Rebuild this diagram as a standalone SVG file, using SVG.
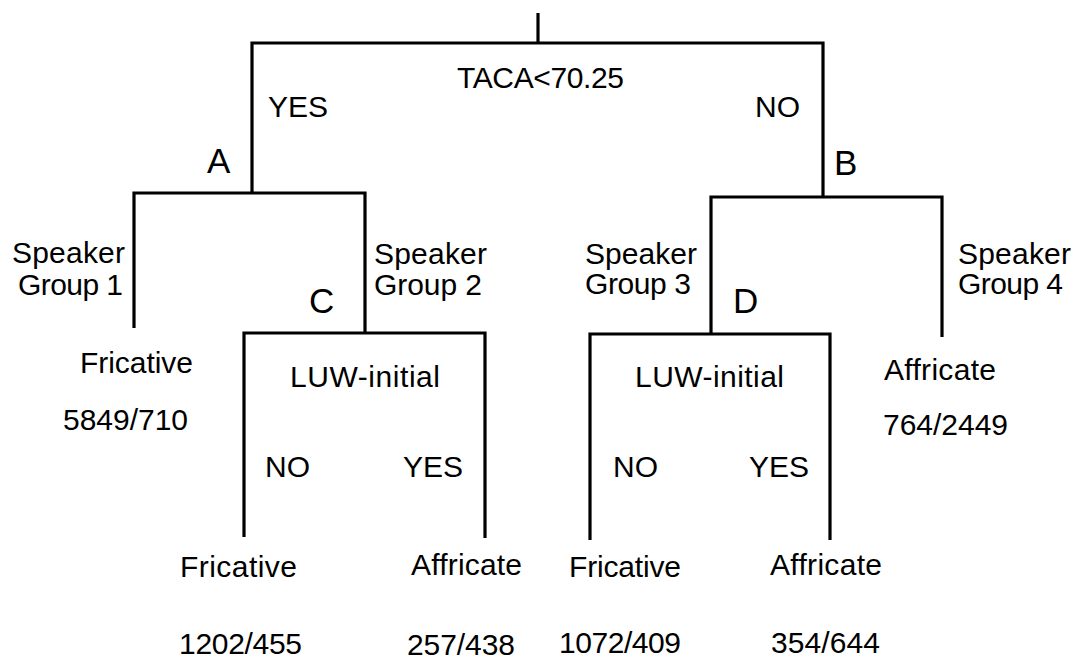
<svg xmlns="http://www.w3.org/2000/svg" width="1074" height="659" viewBox="0 0 1074 659">
<style>
.t{font-family:"Liberation Sans",Arial,sans-serif;font-size:30px;fill:#000}
.L{font-size:35px}
.c{fill:none;stroke:#000;stroke-width:3.2;stroke-linejoin:miter}
</style>
<rect width="1074" height="659" fill="#fff"/>
<g id="connectors">
<path class="c" d="M538 13V43"/>
<path class="c" d="M252 193V43H823V197"/>
<path class="c" d="M134 328V193H365V333"/>
<path class="c" d="M244 537V333H485V538"/>
<path class="c" d="M711 334V197H942V337"/>
<path class="c" d="M590 540V334H830V540"/>
<text class="t" x="268" y="117">YES</text>
<text class="t" x="755" y="117">NO</text>
<text class="t" x="12" y="263" textLength="113">Speaker</text>
<text class="t" x="18" y="295" textLength="105">Group 1</text>
<text class="t" x="374" y="264" textLength="113">Speaker</text>
<text class="t" x="374" y="295" textLength="108">Group 2</text>
<text class="t" x="585" y="264" textLength="112">Speaker</text>
<text class="t" x="585" y="294" textLength="106">Group 3</text>
<text class="t" x="958" y="264" textLength="113">Speaker</text>
<text class="t" x="958" y="294" textLength="105">Group 4</text>
<text class="t" x="265" y="477">NO</text>
<text class="t" x="403" y="477">YES</text>
<text class="t" x="613" y="477">NO</text>
<text class="t" x="749" y="477">YES</text>
</g>
<g id="root"><text class="t" x="457" y="88" textLength="167">TACA&lt;70.25</text></g>
<g id="nodeA"><text class="t L" x="207" y="173">A</text></g>
<g id="nodeB"><text class="t L" x="834" y="175">B</text></g>
<g id="nodeC"><text class="t L" x="309" y="313">C</text><text class="t" x="290" y="387" textLength="150">LUW-initial</text></g>
<g id="nodeD"><text class="t L" x="733" y="313">D</text><text class="t" x="635" y="387" textLength="149">LUW-initial</text></g>
<g id="leaf1"><text class="t" x="80" y="373" textLength="113">Fricative</text><text class="t" x="63" y="430" textLength="125">5849/710</text></g>
<g id="leaf2"><text class="t" x="180" y="577" textLength="117">Fricative</text><text class="t" x="179" y="654" textLength="123">1202/455</text></g>
<g id="leaf3"><text class="t" x="411" y="575" textLength="111">Affricate</text><text class="t" x="407" y="655" textLength="108">257/438</text></g>
<g id="leaf4"><text class="t" x="569" y="577" textLength="112">Fricative</text><text class="t" x="559" y="653" textLength="122">1072/409</text></g>
<g id="leaf5"><text class="t" x="770" y="575" textLength="112">Affricate</text><text class="t" x="771" y="653" textLength="109">354/644</text></g>
<g id="leaf6"><text class="t" x="884" y="380" textLength="112">Affricate</text><text class="t" x="883" y="435" textLength="125">764/2449</text></g>
</svg>
